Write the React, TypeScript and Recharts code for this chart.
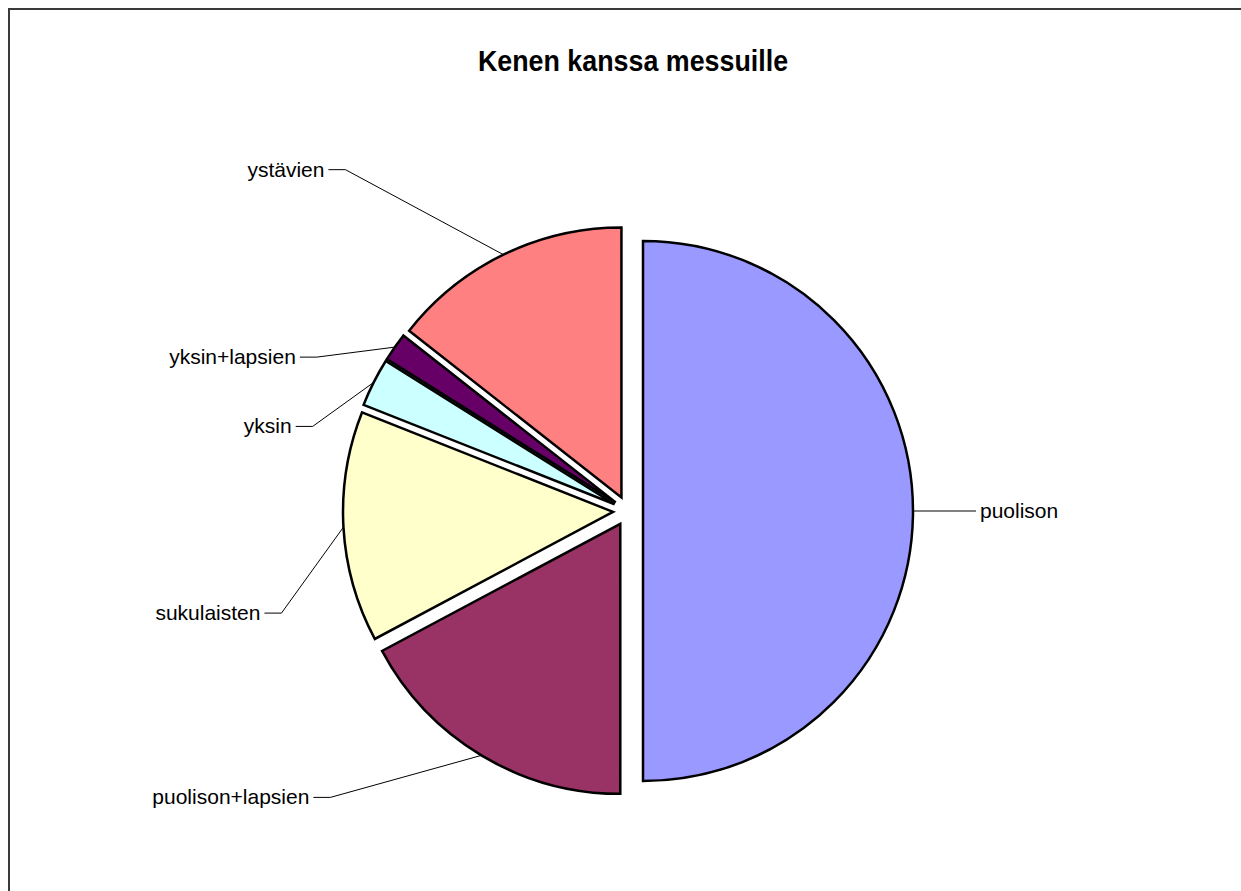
import React from 'react';
import { PieChart, Pie, Cell } from 'recharts';

// Kenen kanssa messuille – shares in percent, clockwise from 12 o'clock
const categories = ['puolison', 'puolison+lapsien', 'sukulaisten', 'yksin', 'yksin+lapsien', 'ystävien'];
const shares = [50, 17.2, 13.8, 2.9, 1.7, 14.4];
const colors = ['#9999FF', '#993366', '#FFFFCC', '#CCFFFF', '#660066', '#FF8080'];

// leader line elbows, relative to the point where the line leaves the slice
const labelNudge: [number, number][] = [
  [46, 0],
  [-151, 42],
  [-62, 86],
  [-61, 44],
  [-78, 10],
  [-158, -85],
];

const CHART_W = 1250;
const CHART_H = 890;
const CX = 618;
const CY = 501;
const RADIUS = 270;
const EXPLODE = 15;
const TAIL = 17;
const FONT = '"Liberation Sans", Arial, sans-serif';

const data = categories.map((name, i) => ({ name, value: shares[i] }));
const total = shares.reduce((a, b) => a + b, 0);

// mid angle of each slice (recharts degrees, clockwise from 90)
const midAngles = shares.map((v, i) => {
  const before = shares.slice(0, i).reduce((a, b) => a + b, 0);
  return 90 - ((before + v / 2) / total) * 360;
});

const RAD = Math.PI / 180;

const makeLabel = (slice: number) => (props: any) => {
  if (props.index !== slice) return <g />;
  const { cx, cy, midAngle, outerRadius } = props;
  const sx = cx + outerRadius * Math.cos(-midAngle * RAD);
  const sy = cy + outerRadius * Math.sin(-midAngle * RAD);
  const [nx, ny] = labelNudge[slice];
  const ex = sx + nx;
  const ey = sy + ny;
  const dir = nx >= 0 ? 1 : -1;
  const tx = ex + dir * TAIL;
  return (
    <g>
      <polyline points={`${sx},${sy} ${ex},${ey} ${tx},${ey}`} fill="none" stroke="#000" strokeWidth={1} />
      <text
        x={tx + dir * 4}
        y={ey + 7}
        textAnchor={dir > 0 ? 'start' : 'end'}
        fontFamily={FONT}
        fontSize={21}
        fill="#000"
      >
        {categories[slice]}
      </text>
    </g>
  );
};

export default function App() {
  return (
    <div
      style={{
        position: 'fixed',
        left: 8,
        top: 8,
        width: CHART_W,
        height: CHART_H,
        borderLeft: '2px solid #3a3a3a',
        borderTop: '2px solid #3a3a3a',
        background: '#fff',
      }}
    >
      <div
        style={{
          position: 'absolute',
          left: 323,
          top: 37,
          width: 600,
          textAlign: 'center',
          fontFamily: FONT,
          fontWeight: 'bold',
          fontSize: 29,
          lineHeight: '29px',
          color: '#000',
          transform: 'scaleX(0.925)',
        }}
      >
        Kenen kanssa messuille
      </div>
      <PieChart width={CHART_W} height={CHART_H} margin={{ top: 0, right: 0, bottom: 0, left: 0 }}>
        {categories.map((_, slice) => {
          const dx = EXPLODE * Math.cos(-midAngles[slice] * RAD);
          const dy = EXPLODE * Math.sin(-midAngles[slice] * RAD);
          return (
            <Pie
              key={slice}
              data={data}
              dataKey="value"
              nameKey="name"
              cx={CX + dx}
              cy={CY + dy}
              outerRadius={RADIUS}
              startAngle={90}
              endAngle={-270}
              label={makeLabel(slice)}
              labelLine={false}
              isAnimationActive={false}
            >
              {data.map((d, j) => (
                <Cell
                  key={d.name}
                  fill={j === slice ? colors[j] : 'none'}
                  stroke={j === slice ? '#000' : 'none'}
                  strokeWidth={2.5}
                />
              ))}
            </Pie>
          );
        })}
      </PieChart>
    </div>
  );
}
